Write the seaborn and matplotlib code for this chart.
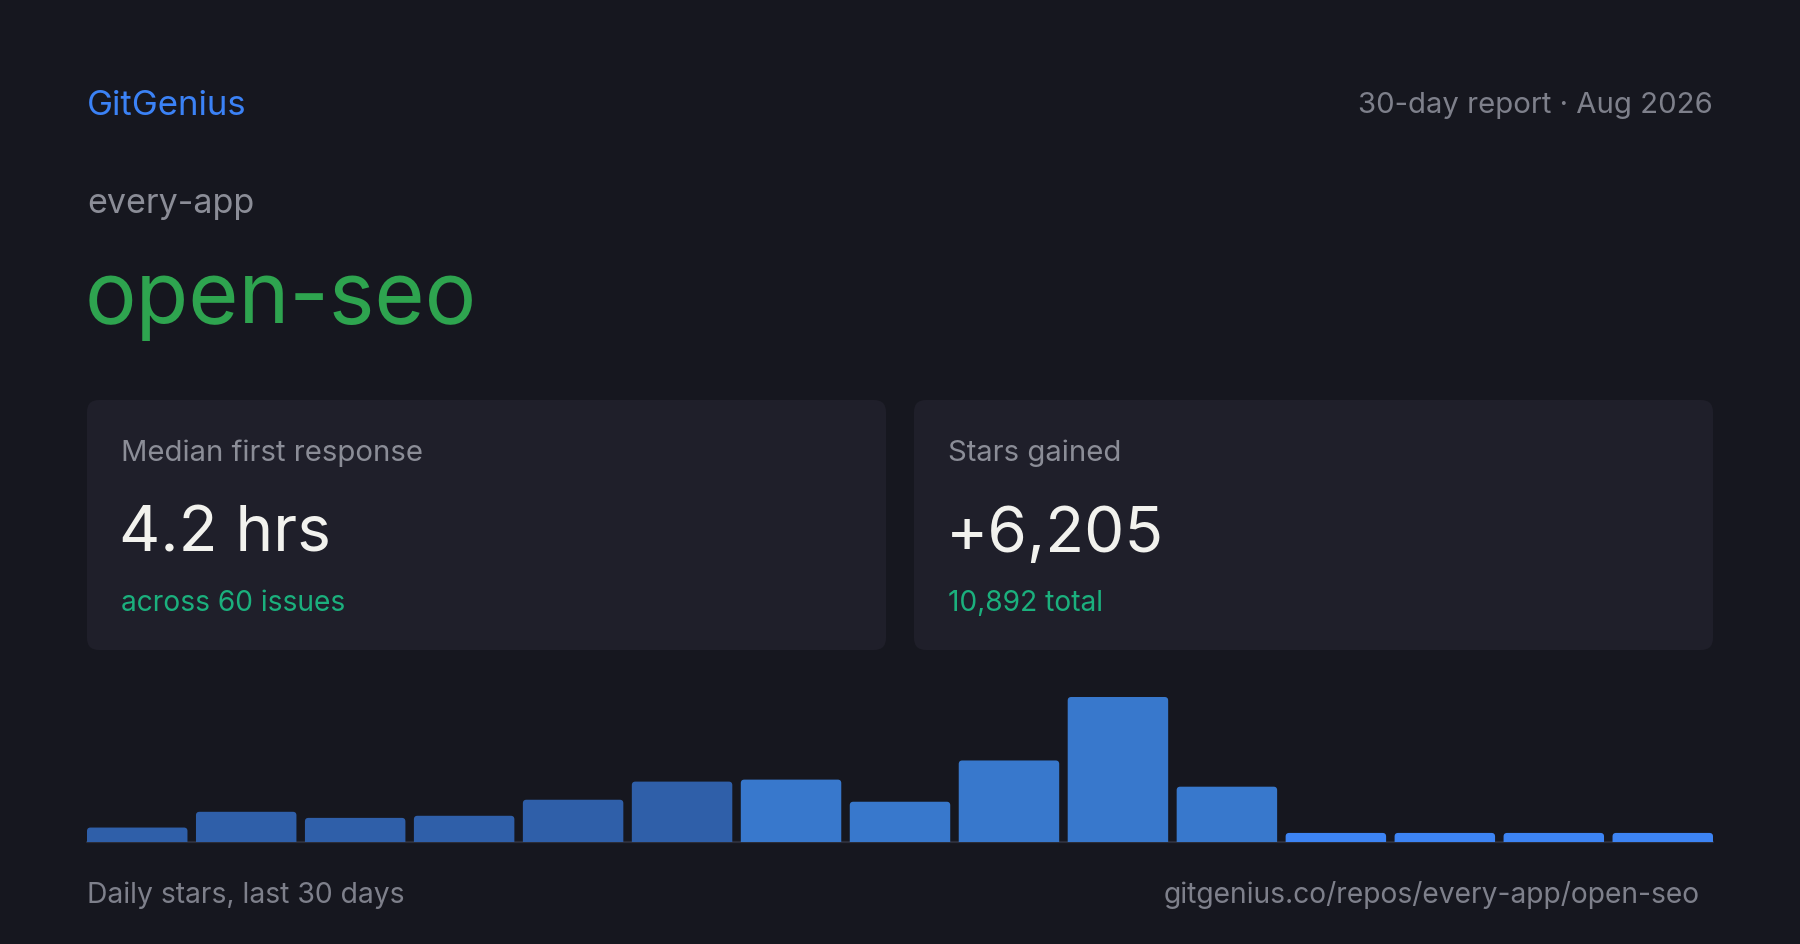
import matplotlib
matplotlib.use("Agg")
import matplotlib.pyplot as plt
import seaborn as sns
import pandas as pd
from matplotlib.patches import FancyBboxPatch

# ---------------- data ----------------
brand = "GitGenius"
report_label = "30-day report · Aug 2026"
owner = "every-app"
repo = "open-seo"
card_titles = ["Median first response", "Stars gained"]
card_values = ["4.2 hrs", "+6,205"]
card_notes = ["across 60 issues", "10,892 total"]
chart_caption = "Daily stars, last 30 days"
url_label = "gitgenius.co/repos/every-app/open-seo"

buckets = [f"Days {2*i+1}-{2*i+2}" for i in range(15)]
stars = [145, 303, 242, 263, 424, 606, 626, 404, 818, 1455, 555, 91, 91, 91, 91]

# ---------------- style ----------------
BG = "#16171f"
CARD = "#1f1f2a"
BLUE = "#3b82f6"
GRAY = "#8b8d97"
GRAY_DIM = "#7e808b"
WHITE = "#f2f2ee"
GREEN = "#2ea44f"
TEAL = "#1bb07d"
LINE = "#2b2d39"
bar_colors = ["#2f5fa9"] * 6 + ["#3878cc"] * 5 + ["#3d84f4"] * 4

sns.set_theme(style="white")
plt.rcParams["font.family"] = ["Inter", "DejaVu Sans"]

W, H = 1800, 945
fig = plt.figure(figsize=(W / 100, H / 100), dpi=100, facecolor=BG)

# full-figure pixel canvas for layout
bg = fig.add_axes([0, 0, 1, 1])
bg.set_xlim(0, W)
bg.set_ylim(H, 0)
bg.axis("off")

bg.text(87, 115, brand, fontsize=25, color=BLUE, ha="left", va="baseline")
bg.text(1713, 113, report_label, fontsize=21.1, color=GRAY_DIM, ha="right", va="baseline")
bg.text(87, 213, owner, fontsize=24.5, color=GRAY, ha="left", va="baseline")
bg.text(85, 323, repo, fontsize=62, color=GREEN, ha="left", va="baseline")

card_x = [87, 914]
for i in range(2):
    bg.add_patch(FancyBboxPatch((card_x[i], 401), 799, 250,
                                boxstyle="round,pad=0,rounding_size=12",
                                fc=CARD, ec="none"))
    tx = card_x[i] + 34
    bg.text(tx, 461, card_titles[i], fontsize=21.1, color=GRAY, ha="left", va="baseline")
    bg.text(tx - 2, 552, card_values[i], fontsize=46, color=WHITE, ha="left", va="baseline")
    bg.text(tx, 611, card_notes[i], fontsize=20.3, color=TEAL, ha="left", va="baseline")

bg.text(87, 903, chart_caption, fontsize=20.4, color=GRAY_DIM, ha="left", va="baseline")
bg.text(1700, 903, url_label, fontsize=20.3, color=GRAY_DIM, ha="right", va="baseline")

# ---------------- bar chart ----------------
ax = fig.add_axes([87 / W, (H - 843) / H, 1626 / W, 145 / H])
ax.patch.set_alpha(0)
df = pd.DataFrame({"bucket": buckets, "stars": stars})
bw = 0.922
sns.barplot(data=df, x="bucket", y="stars", hue="bucket", palette=bar_colors,
            width=bw, saturation=1, legend=False, ax=ax)
ax.set_xlim(-bw / 2, len(buckets) - 1 + bw / 2)
ax.set_ylim(0, max(stars))
ax.axis("off")

# round the top corners of the bars
p0 = ax.transData.transform((0, 0))
p1 = ax.transData.transform((1, 1))
sx, sy = p1[0] - p0[0], p1[1] - p0[1]
r_px = 3.5
rx = r_px / sx
ry = r_px / sy
for p in list(ax.patches):
    x0, y0, w, h = p.get_x(), p.get_y(), p.get_width(), p.get_height()
    fc = p.get_facecolor()
    p.remove()
    ax.add_patch(FancyBboxPatch((x0, y0 - ry), w, h + ry,
                                boxstyle=f"round,pad=0,rounding_size={rx}",
                                mutation_aspect=ry / rx, fc=fc, ec="none", zorder=2))
ax.axhline(0, color=LINE, lw=1.6, zorder=1, clip_on=False)

fig.savefig("out.png", dpi=100, facecolor=BG)
